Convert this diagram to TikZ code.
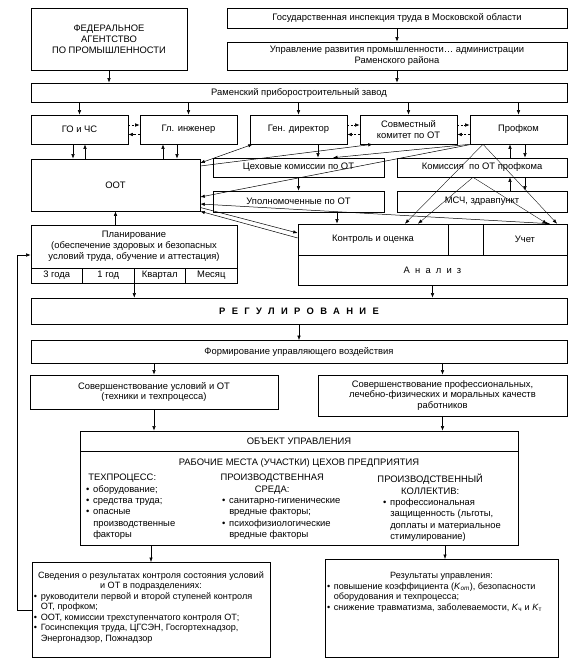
\documentclass[tikz,border=0pt]{standalone}
\usepackage{fontspec}
\setmainfont{Liberation Sans}
\newfontfamily\spaced[LetterSpace=55]{Liberation Sans}
\newfontfamily\wide[LetterSpace=68]{Liberation Sans}
\usetikzlibrary{arrows.meta}

\newcommand\bl{\makebox[0.75em][l]{\textbullet}}
\newcommand\ind{\hspace*{0.75em}}

\begin{document}
\begin{tikzpicture}[
  x=1pt, y=-1pt,
  font=\fontsize{9.4}{10.8}\selectfont,
  box/.style={
    draw,
    line width=0.6pt,
    inner sep=1pt,
    align=center
  },
  coltext/.style={anchor=north west, inner sep=0pt, font=\fontsize{9.4}{11.4}\selectfont},
  arr/.style={-{Latex[length=4.5pt,width=3.4pt]}, line width=0.5pt},
  darr/.style={arr, dash pattern=on 2pt off 1.5pt},
  dblarr/.style={{Latex[length=4.5pt,width=3.4pt]}-{Latex[length=4.5pt,width=3.4pt]}, line width=0.5pt},
  slim/.style={arr, line width=0.35pt}
]
\useasboundingbox (0,0) rectangle (583,670);

% top of the hierarchy
\node[box, minimum width=156pt, minimum height=62pt] (fed) at (109,39) {ФЕДЕРАЛЬНОЕ\\АГЕНТСТВО\\ПО ПРОМЫШЛЕННОСТИ};
\node[box, minimum width=340pt, minimum height=20pt] (gos) at (397,18) {Государственная инспекция труда в Московской области};
\node[box, minimum width=340pt, minimum height=28pt] (upr) at (397,56) {Управление развития промышленности… администрации\\Раменского района};
\node[box, minimum width=536pt, minimum height=19pt] (zavod) at (299,92.5) {Раменский приборостроительный завод};

% management row
\node[box, minimum width=97pt, minimum height=29pt] (go) at (79.5,129.5) {ГО и ЧС};
\node[box, minimum width=97pt, minimum height=29pt] (glinzh) at (188.5,129.5) {Гл. инженер};
\node[box, minimum width=97pt, minimum height=29pt] (gendir) at (298.5,129.5) {Ген. директор};
\node[box, minimum width=97pt, minimum height=29pt] (sovm) at (408.5,129.5) {Совместный\\комитет по ОТ};
\node[box, minimum width=97pt, minimum height=29pt] (profkom) at (518.5,129.5) {Профком};

% services
\node[box, minimum width=169pt, minimum height=52pt] (oot) at (115.5,185) {ООТ};
\node[box, minimum width=171pt, minimum height=19pt] (cekh) at (298.5,167.5) {Цеховые комиссии по ОТ};
\node[box, minimum width=170pt, minimum height=19pt] (komprof) at (482,167.5) {Комиссия\ \ по ОТ профкома};
\node[box, minimum width=171pt, minimum height=21pt] (upoln) at (298.5,201.5) {Уполномоченные по ОТ};
\node[box, minimum width=170pt, minimum height=21pt] (msch) at (482,201.5) {МСЧ, здравпункт};

% planning
\node[box, minimum width=206pt, minimum height=43pt] (plan) at (134,246.5) {Планирование\\(обеспечение здоровых и безопасных\\условий труда, обучение и аттестация)};
\foreach \i/\x/\t in {1/56.75/3 года, 2/108.25/1 год, 3/159.75/Квартал, 4/211.25/Месяц}
  \node[box, minimum width=51.5pt, minimum height=15pt] (c\i) at (\x,275.5) {\t};

% control and analysis
\node[box, minimum width=150pt, minimum height=31pt] (kontrol) at (373,239.5) {Контроль и оценка};
\node[box, minimum width=35pt, minimum height=31pt] (pusto) at (465.5,239.5) {};
\node[box, minimum width=84pt, minimum height=31pt] (uchet) at (525,239.5) {Учет};
\node[box, minimum width=269pt, minimum height=30pt] (analiz) at (432.5,270) {{\spaced Анализ}};

% regulation
\node[box, minimum width=536pt, minimum height=26pt] (reg) at (299,311) {{\wide\bfseries РЕГУЛИРОВАНИЕ}};
\node[box, minimum width=536pt, minimum height=23pt] (form) at (299,352) {Формирование управляющего воздействия};
\node[box, minimum width=248pt, minimum height=34pt] (sov1) at (154,392) {Совершенствование условий и ОТ\\(техники и техпроцесса)};
\node[box, minimum width=249pt, minimum height=41pt] (sov2) at (442.5,395.5) {Совершенствование профессиональных,\\лечебно-физических и моральных качеств\\работников};

% object of management
\node[box, minimum width=438pt, minimum height=20pt] (objhead) at (299,441) {ОБЪЕКТ УПРАВЛЕНИЯ};
\node[box, minimum width=438pt, minimum height=94pt] (objbody) at (299,498) {};
\node (rabmesta) at (299,463) {РАБОЧИЕ МЕСТА (УЧАСТКИ) ЦЕХОВ ПРЕДПРИЯТИЯ};
\node[coltext] (tekh) at (86,474) {\parbox[t]{130pt}{\raggedright
  \makebox[72pt]{ТЕХПРОЦЕСС:}\\\bl оборудование;\\\bl средства труда;\\\bl опасные\\\ind производственные\\\ind факторы}};
\node[coltext] (sreda) at (222,474) {\parbox[t]{130pt}{\raggedright
  \makebox[100pt]{ПРОИЗВОДСТВЕННАЯ}\\\makebox[100pt]{СРЕДА:}\\\bl санитарно-гигиенические\\\ind вредные факторы;\\\bl психофизиологические\\\ind вредные факторы}};
\node[coltext] (kollektiv) at (383,474) {\parbox[t]{130pt}{\raggedright
  \makebox[94pt]{ПРОИЗВОДСТВЕННЫЙ}\\\makebox[94pt]{КОЛЛЕКТИВ:}\\\bl профессиональная\\\ind защищенность (льготы,\\\ind доплаты и материальное\\\ind стимулирование)}};

% results
\node[box, anchor=north, inner sep=2pt, font=\fontsize{9.1}{10.5}\selectfont] (sved) at (151,562) {\parbox[t][91pt][t]{234pt}{\vspace*{7pt}{\centering Сведения о результатах контроля состояния условий\\и ОТ в подразделениях:\par}\raggedright
  \bl руководители первой и второй ступеней контроля\\\ind ОТ, профком;\\\bl ООТ, комиссии трехступенчатого контроля ОТ;\\\bl Госинспекция труда, ЦГСЭН, Госгортехнадзор,\\\ind Энергонадзор, Пожнадзор}};
\node[box, anchor=north, inner sep=2pt, font=\fontsize{9.1}{10.5}\selectfont] (res) at (441.5,559) {\parbox[t][94pt][t]{229pt}{\vspace*{11pt}{\centering Результаты управления:\par}\raggedright
  \bl повышение коэффициента (\textit{K}\textsubscript{\textit{от}}), безопасности\\\ind оборудования и техпроцесса;\\\bl снижение травматизма, заболеваемости, \textit{K}\textsubscript{ч} и \textit{K}\textsubscript{т}}};

% vertical links at the top
\draw[arr] (fed.south) -- (fed.south |- zavod.north);
\draw[arr] (gos.south) -- (upr.north);
\draw[arr] (upr.south) -- (upr.south |- zavod.north);
\foreach \n in {go,glinzh,gendir,sovm,profkom}
  \draw[arr] (\n.north |- zavod.south) -- (\n.north);

% two-way links in the row
\foreach \a/\b in {go/glinzh,gendir/sovm,sovm/profkom} {
  \draw[darr] ([yshift=4.5pt]\a.east) -- ([yshift=4.5pt]\a.east -| \b.west);
  \draw[darr] ([yshift=-5pt]\b.west) -- ([yshift=-5pt]\b.west -| \a.east);
}
\draw[arr] ([xshift=-6.5pt]go.south) -- ([xshift=-6.5pt]go.south |- oot.north);
\draw[arr] ([xshift=5.5pt]go.south |- oot.north) -- ([xshift=5.5pt]go.south);
\draw[arr] ([xshift=-25.5pt]glinzh.south |- oot.north) -- ([xshift=-25.5pt]glinzh.south);
\draw[arr] ([xshift=-11.5pt]glinzh.south) -- ([xshift=-11.5pt]glinzh.south |- oot.north);

% links to OOT and the commissions
\draw[dblarr] ([xshift=3pt]gendir.south west) -- ([yshift=22pt]oot.east);
\draw[arr] ([yshift=19pt]oot.east) -- ([xshift=13pt]sovm.south west);
\draw[arr] ([xshift=19.5pt]gendir.south) -- ([xshift=19.5pt]gendir.south |- cekh.north);
\draw[arr] (profkom.south west) -- ([xshift=34.5pt]cekh.north);
\draw[arr] ([xshift=2pt]profkom.south west) -- ([yshift=-12pt]oot.east);
\draw[arr] (cekh.south) -- (upoln.north);
\draw[arr] ([xshift=38.5pt]upoln.south) -- ([xshift=38.5pt]upoln.south |- kontrol.north);
\draw[dblarr] ([yshift=-19pt]oot.east) -- ([xshift=25pt]uchet.north);
\draw[arr] ([yshift=-22.5pt]oot.east) -- ([yshift=6.5pt]kontrol.west);
\draw[arr] ([yshift=1.5pt]kontrol.west) -- (oot.south east);

% profkom side
\draw[arr] ([xshift=-8.5pt]profkom.south |- komprof.north) -- ([xshift=-8.5pt]profkom.south);
\draw[arr] ([xshift=6.5pt]profkom.south) -- ([xshift=6.5pt]profkom.south |- komprof.north);
\draw[arr] ([xshift=-8.5pt]profkom.south |- msch.north) -- ([xshift=-8.5pt]profkom.south |- komprof.south);
\draw[arr] ([xshift=6.5pt]profkom.south |- komprof.south) -- ([xshift=6.5pt]profkom.south |- msch.north);
\draw[slim] ([xshift=-35.5pt]profkom.south) -- ([xshift=32pt]kontrol.north);
\draw[slim] ([xshift=-35.5pt]profkom.south) -- ([xshift=32pt]uchet.north);
\draw[slim] ([xshift=-9pt]komprof.south) -- ([xshift=45pt]kontrol.north);
\draw[slim] ([xshift=-9pt]komprof.south) -- ([xshift=22pt]uchet.north);

% planning and regulation
\draw[arr] (oot.south |- plan.north) -- (oot.south);
\draw[arr] (c2.south east) -- (c2.south east |- reg.north);
\draw[arr] (analiz.south) -- (analiz.south |- reg.north);
\draw[arr] (reg.south) -- (form.north);
\foreach \s in {sov1,sov2} {
  \draw[arr] (\s.north |- form.south) -- (\s.north);
  \draw[arr] (\s.south) -- (\s.south |- objhead.north);
}
\draw[arr] (sved.north |- objbody.south) -- (sved.north);
\draw[arr] ([xshift=3.5pt]res.north |- objbody.south) -- ([xshift=3.5pt]res.north);

% feedback to planning
\coordinate (fbk) at (17,0);
\draw[arr] (sved.west) -| ([yshift=-8.5pt]plan.west -| fbk) -- ([yshift=-8.5pt]plan.west);

\end{tikzpicture}
\end{document}
